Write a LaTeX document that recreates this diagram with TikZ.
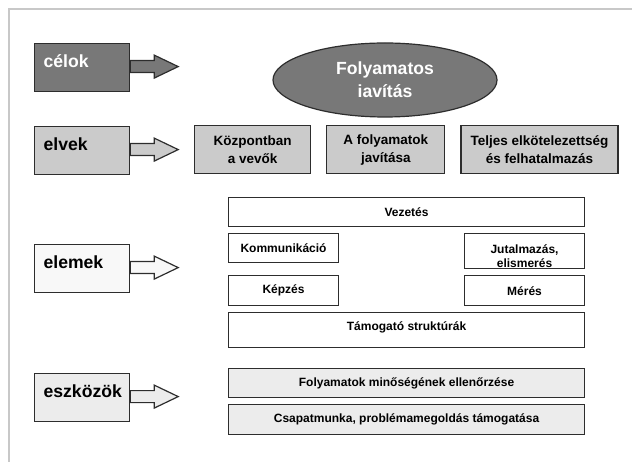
\documentclass[tikz,border=0pt]{standalone}
\usepackage{fontspec}
\setmainfont{Liberation Sans}
\usetikzlibrary{positioning, calc, shapes.geometric}

\definecolor{darkfill}{RGB}{120,120,120}
\definecolor{midfill}{RGB}{203,203,203}
\definecolor{palefill}{RGB}{236,236,236}
\definecolor{whitefill}{RGB}{248,248,248}
\definecolor{framegray}{RGB}{200,200,200}
\definecolor{edge}{RGB}{45,45,45}

\begin{document}
\begin{tikzpicture}[
  x=1bp, y=-1bp,
  side/.style={
    draw=edge, line width=1.2bp, anchor=north west, align=left,
    text width=77bp, inner xsep=9bp, inner ysep=0pt,
    text height=23.5bp, text depth=24.5bp,
    font=\fontsize{17.6bp}{21bp}\selectfont\bfseries
  },
  principle/.style={
    draw=edge, line width=1.2bp, fill=midfill, anchor=north west,
    minimum height=48bp, inner sep=0pt, align=center,
    font=\fontsize{13.5bp}{18bp}\selectfont\bfseries
  },
  elem/.style={
    draw=edge, line width=1.1bp, fill=white, anchor=north west,
    inner sep=0pt, align=center,
    font=\fontsize{12bp}{14bp}\selectfont\bfseries
  },
  tool/.style={elem, fill=palefill, minimum width=356bp},
  barrow/.style={draw=edge, line width=1.2bp, line join=miter}
]
\useasboundingbox (0,0) rectangle (632,462);

% ---- page frame
\draw[framegray, line width=2.5bp] (9,462) -- (9,9) -- (632,9);

% ---- the four levels, down the left side
\node[side, fill=darkfill, text=white] (celok) at (34,43)  {célok};
\node[side, fill=midfill]              (elvek) at (34,126) {elvek};
\node[side, fill=whitefill]            (elemek) at (34,244) {elemek};
\node[side, fill=palefill]             (eszkoz) at (34,373) {eszközök};

\foreach \n/\c in {celok/darkfill, elvek/midfill, elemek/whitefill, eszkoz/palefill}
  \draw[barrow, fill=\c] ($(\n.east)+(0,-1)$) ++(0,-6) -- ++(24,0) -- ++(0,-5.5)
    -- ++(24,11.5) -- ++(-24,11.5) -- ++(0,-5.5) -- ++(-24,0) -- cycle;

% ---- goal
\node[ellipse, draw=edge, line width=1.2bp, fill=darkfill, text=white,
  minimum width=224bp, minimum height=74bp, inner sep=0pt, align=center,
  font=\fontsize{17.6bp}{23bp}\selectfont\bfseries] (goal) at (385,80)
  {Folyamatos\\iavítás};

% ---- principles
\node[principle, minimum width=116bp] (kozp) at (194,125) {Központban\\a vevők};
\node[principle, minimum width=118bp] (javit) [right=15bp of kozp]
  {A folyamatok\\javítása};
\node[principle, minimum width=157bp] (teljes) [right=15bp of javit]
  {Teljes elkötelezettség\\és felhatalmazás};

% ---- elements
\node[elem, minimum width=356bp, minimum height=29bp] (vez) at (228,197) {Vezetés};
\node[elem, minimum width=110bp, minimum height=29bp] (komm)
  [below=6bp of vez.south west, anchor=north west] {Kommunikáció};
\node[elem, text width=120bp, text height=19.5bp, text depth=15.5bp] (jutal)
  [below=6bp of vez.south east, anchor=north east] {Jutalmazás,\\elismerés};
\node[elem, minimum width=110bp, minimum height=30bp] (kepz)
  [below=12bp of komm.south west, anchor=north west] {Képzés};
\node[elem, minimum width=120bp, minimum height=30bp] (meres)
  [below=6bp of jutal.south east, anchor=north east] {Mérés};
\node[elem, minimum width=356bp, text height=17.3bp, text depth=17.7bp] (tamog)
  [below=6bp of kepz.south west, anchor=north west] {Támogató struktúrák};

% ---- tools
\node[tool, minimum height=29bp] (minos) at (228,368)
  {Folyamatok minőségének ellenőrzése};
\node[tool, minimum height=30bp] (csapat) [below=6bp of minos]
  {Csapatmunka, problémamegoldás támogatása};

\end{tikzpicture}
\end{document}
